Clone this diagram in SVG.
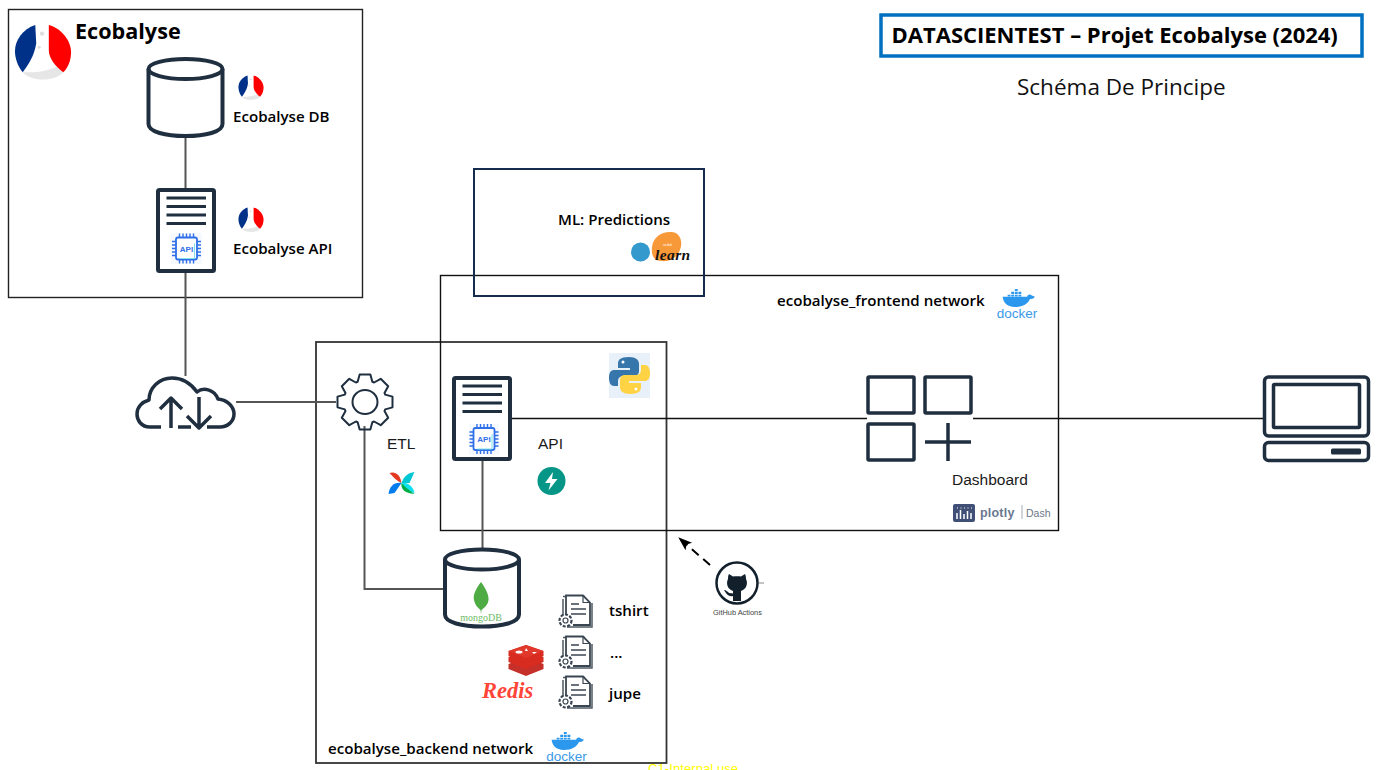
<svg xmlns="http://www.w3.org/2000/svg" width="1384" height="770" viewBox="0 0 1384 770">
<style>
.lab{font-family:"Open Sans","Liberation Sans",sans-serif;font-weight:600;font-size:15.100px;fill:#000}
.sm{font-family:"Liberation Sans",Arial,sans-serif;font-size:15.500px;fill:#1a1a1a}
.ic{fill:none;stroke:#1f2f40;stroke-linejoin:round;stroke-linecap:butt}
.box{fill:none}
.conn{fill:none;stroke:#555;stroke-width:2}
.thin{fill:none;stroke:#111;stroke-width:1.3}
.apit{font-family:"Liberation Sans",Arial,sans-serif;font-weight:700;font-size:8px;fill:#2f6fe8;text-anchor:middle}
.dock{font-family:"Liberation Sans",Arial,sans-serif;font-size:13.500px;fill:#3a9ae8;text-anchor:middle}
</style>
<defs>
<symbol id="flag" viewBox="0 0 60 60" overflow="visible">
<path d="M9 50C18 60 42 60 51 50L46 43C38 48 26 50 16 50Z" fill="#e6e6e6"/>
<path d="M22 1C9 5 1 17 1 28C1 36 4 44 9 50C15 42 21 33 23 20Z" fill="#003189"/>
<path d="M36 1C50 5 59 18 59 29C59 38 56 45 51 50C43 44 36 36 36 27Z" fill="#f00"/>
<circle cx="29" cy="10" r="2.2" fill="#ddd"/><circle cx="26" cy="24" r="1.6" fill="#ddd"/>
</symbol>
<g id="cyl"><path class="ic" stroke-width="4" d="M-37 12V67C-37 75 -20 79 0 79C20 79 37 75 37 67V12"/><ellipse class="ic" stroke-width="4" cx="0" cy="12" rx="37" ry="10"/></g>
<g id="server"><rect class="ic" stroke-width="4" x="2" y="2" width="56" height="81" rx="1.500"/><path class="ic" stroke-width="3" d="M10.500 10H50M10.500 18.500H50M10.500 27H50M10.500 35.500H50"/></g>
<g id="chip" fill="none" stroke="#2f6fe8"><rect x="-10.500" y="-11" width="21" height="22" rx="2" stroke-width="1.800" fill="#fff"/><path d="M-7 10H8V-5" stroke="#7fe0ea" stroke-width="1"/><path stroke-width="1.400" d="M-7 -11v-4M-3.500 -11v-4M0 -11v-4M3.500 -11v-4M7 -11v-4M-7 11v4M-3.500 11v4M0 11v4M3.500 11v4M7 11v4M-10.500 -7h-4M-10.500 -3.500h-4M-10.500 0h-4M-10.500 3.500h-4M-10.500 7h-4M10.500 -7h4M10.500 -3.500h4M10.500 0h4M10.500 3.500h4M10.500 7h4"/></g>
<g id="whale" fill="#2b97ed"><path d="M-20 -3H14C15 -6 17 -7 19 -6C21 -4 24 -4 25 -3C23 0 20 0 18 0C15 7 8 11 -3 11C-14 11 -19 5 -20 -3Z"/><path d="M-13 -6h4v2.500h-4zM-8 -6h4v2.500h-4zM-3 -6h4v2.500h-4zM2 -6h4v2.500h-4zM-8 -10h4v3h-4zM-3 -10h4v3h-4zM2 -10h4v3h-4zM-3 -14h4v3h-4z"/></g>
<g id="doc" fill="none" stroke="#3a4652"><path stroke-width="1.500" d="M5 5V29M5 2.500H27M9 33H34V9" stroke-opacity=".9"/><path stroke-width="1.800" d="M8 20V1.500H25L32 8.500V31H15" fill="#fff"/><path stroke-width="1.200" d="M25 1.500V8.500H32"/><path stroke-width="1.500" d="M13 10H21M13 15H28M13 20H28"/><circle cx="7.500" cy="26.500" r="6" stroke-width="2.200" stroke-dasharray="3 1.500" fill="#fff"/><circle cx="7.500" cy="26.500" r="2.500" stroke-width="1.200"/></g>
<marker id="ah" markerWidth="14" markerHeight="12" refX="13" refY="5" orient="auto" markerUnits="userSpaceOnUse"><path d="M0 0L14 5L0 10L3 5Z" fill="#000"/></marker>
</defs>

<rect width="1384" height="770" fill="#fff"/>

<g id="containers">
<rect class="box" x="8.500" y="9.500" width="354" height="288" stroke="#222" stroke-width="1.400"/>
<rect class="box" x="316" y="342" width="350.500" height="421" stroke="#333" stroke-width="1.800"/>
<rect class="box" x="440.500" y="275.500" width="618" height="255" stroke="#111" stroke-width="1.400"/>
<rect class="box" x="474" y="169" width="230" height="127" stroke="#152c4e" stroke-width="2"/>
</g>

<g id="connectors">
<path class="conn" d="M185.500 137V188M185.500 272V376M236 402H336M364.500 426V589H443M482.500 461V549"/>
<path class="thin" d="M512 418.500H867M973 418.500H1263"/>
<path d="M710 565L679 538" fill="none" stroke="#000" stroke-width="2" stroke-dasharray="9 6" marker-end="url(#ah)"/>
<path d="M759 583H764" stroke="#888" stroke-width="1"/>
</g>

<g id="title">
<rect x="881" y="15" width="481" height="41" fill="none" stroke="#0070c0" stroke-width="3.500"/>
<text x="891.500" y="43" font-family="'Open Sans','Liberation Sans',sans-serif" font-weight="700" font-size="22" fill="#000">DATASCIENTEST – Projet Ecobalyse (2024)</text>
<text x="1017" y="95" font-family="'Open Sans','Liberation Sans',sans-serif" font-size="22.500" fill="#111">Schéma De Principe</text>
</g>

<g id="ecobalyse-logo"><use href="#flag" x="14" y="24" width="58" height="58"/>
<text x="75" y="38.500" font-family="'Open Sans','Liberation Sans',sans-serif" font-weight="700" font-size="21.600" fill="#000">Ecobalyse</text></g>

<g id="ecobalyse-db"><use href="#cyl" transform="translate(185.500 57)"/><use href="#flag" x="238" y="75" width="26" height="26"/><text class="lab" x="233" y="122">Ecobalyse DB</text></g>

<g id="ecobalyse-api"><use href="#server" transform="translate(156 188)"/><rect x="171" y="233" width="31" height="31" fill="#f6f9fd"/><use href="#chip" transform="translate(186.500 248.500)"/><text class="apit" x="186.500" y="251.500">API</text><use href="#flag" x="238" y="207" width="26" height="26"/><text class="lab" x="233" y="254">Ecobalyse API</text></g>

<g id="cloud"><path class="ic" stroke-width="3.500" stroke-linecap="round" d="M161 427H150C141 427 137 420 137 414C137 407 142 402 149 400C149 388 159 378 172 378C184 378 192 385 197 392C203 387 214 389 218 399C228 400 234 407 234 414C234 421 228 427 220 427H207M178 427H191"/><path class="ic" stroke-width="3.500" d="M171 428V398M160 409L171 398L182 409M199 428V397M187 416L199 428L211 416"/></g>

<g id="etl"><path class="ic" stroke-width="2" transform="translate(365 402)" d="M20.200 -7.350L27.500 -5.350L27.500 5.350L20.200 7.350L19.500 9.100L23.200 15.700L15.700 23.200L9.100 19.500L7.350 20.200L5.350 27.500L-5.350 27.500L-7.350 20.200L-9.100 19.500L-15.700 23.200L-23.200 15.700L-19.500 9.100L-20.200 7.350L-27.500 5.350L-27.500 -5.350L-20.200 -7.350L-19.500 -9.100L-23.200 -15.700L-15.700 -23.200L-9.100 -19.500L-7.350 -20.200L-5.350 -27.500L5.350 -27.500L7.350 -20.200L9.100 -19.500L15.700 -23.200L23.200 -15.700L19.500 -9.100Z"/><ellipse class="ic" stroke-width="2" cx="365" cy="402" rx="12.500" ry="12"/>
<text class="sm" x="387" y="449">ETL</text>
<g transform="translate(401.500 483)"><path d="M0 0C-5 -2 -9 -7 -12 -10C-7 -12 -1 -9 0 0Z" fill="#e43921"/><path d="M0 0C3 -8 7 -10 13 -11L8 0Z" fill="#00c7d4"/><path d="M0 0C-8 -1 -12 4 -13 11L-7 10Z" fill="#017cee"/><path d="M0 0C3 5 6 8 13 10C12 4 6 -1 0 0Z" fill="#11e1ee"/><path d="M0 0C-1 6 3 10 13 11L5 5Z" fill="#00ad46"/></g></g>

<g id="api"><use href="#server" transform="translate(452 376)"/><rect x="469" y="424" width="30" height="31" fill="#f6f9fd"/><use href="#chip" transform="translate(484 439)"/><text class="apit" x="484" y="442">API</text>
<text class="sm" x="538" y="449">API</text>
<circle cx="551.500" cy="481" r="14" fill="#059688"/><path d="M553 472L545 483H550.500L548.500 490.500L557.500 479H552Z" fill="#fff"/></g>

<g id="python"><rect x="609" y="353" width="41" height="45" fill="#e8f0fa"/>
<path d="M629 357C620 357 618 360 618 364V368H630V370H614C610 370 609 374 609 378C609 383 611 386 614 386H618V381C618 378 620 376 624 376H634C637 376 639 374 639 371V364C639 360 636 357 629 357Z" fill="#3776ab"/>
<path d="M630 394C639 394 641 391 641 387V383H629V381H645C649 381 650 377 650 373C650 368 648 365 645 365H641V370C641 373 639 375 635 375H625C622 375 620 377 620 380V387C620 391 623 394 630 394Z" fill="#ffd343"/>
<circle cx="623" cy="362" r="1.500" fill="#fff"/><circle cx="636" cy="389" r="1.500" fill="#fff"/></g>

<g id="mongodb"><use href="#cyl" transform="translate(482 547.500)"/>
<path d="M481 582C475 590 473 595 474 600C475 605 478 608 480.500 610L481 614L481.500 610C484 608 488 605 488.500 600C489 595 486 589 481 582Z" fill="#4fab44"/>
<text x="481" y="620.500" font-family="'Liberation Serif',serif" font-size="10" fill="#6dbb66" text-anchor="middle">mongoDB</text></g>

<g id="file-tshirt"><use href="#doc" transform="translate(558 594)"/><text class="lab" x="609" y="616">tshirt</text></g>
<g id="file-etc"><use href="#doc" transform="translate(558 635)"/><text class="lab" x="610" y="658">...</text></g>
<g id="file-jupe"><use href="#doc" transform="translate(558 675)"/><text class="lab" x="609" y="699">jupe</text></g>

<g id="redis">
<path d="M508.500 664L526 657L543.500 664V669L526 676L508.500 669Z" fill="#c6302b"/>
<path d="M508.500 657L526 650L543.500 657V662L526 669L508.500 662Z" fill="#d82c20"/>
<path d="M508.500 651L526 645L543.500 651V656L526 663L508.500 656Z" fill="#d82c20"/>
<path d="M508.500 651L526 645L543.500 651L526 658Z" fill="#e0382b"/><ellipse cx="519" cy="652" rx="3.500" ry="1.600" fill="#fff"/><path d="M526 648l2 3l-3 0zM532 652h5l-3 2z" fill="#fff"/>
<text x="482" y="698" font-family="'Liberation Serif',serif" font-style="italic" font-weight="700" font-size="22.500" fill="#ff4438">Redis</text></g>

<g id="backend-label"><text class="lab" x="328" y="754">ecobalyse_backend network</text><use href="#whale" transform="translate(566 742) scale(.72)"/><text class="dock" x="566.500" y="761">docker</text></g>
<g id="frontend-label"><text class="lab" x="777" y="306">ecobalyse_frontend network</text><use href="#whale" transform="translate(1017 299) scale(.72)"/><text class="dock" x="1017" y="318">docker</text></g>

<g id="ml"><text class="lab" x="558" y="225">ML: Predictions</text>
<circle cx="640.500" cy="252" r="9.500" fill="#3499cd"/><path d="M652 247C653 237 662 231 672 232C681 233 683 243 680 250C677 258 670 262 661 261C654 261 651 255 652 247Z" fill="#f89939"/>
<text x="663" y="246" font-family="'Liberation Sans',sans-serif" font-size="4" fill="#fff">scikit</text>
<text x="655" y="260" font-family="'Liberation Serif',serif" font-style="italic" font-weight="700" font-size="15.500" fill="#111" letter-spacing=".4">learn</text></g>

<g id="dashboard"><g class="ic" stroke-width="3.500"><rect x="868" y="377" width="46" height="36" rx="1"/><rect x="925" y="377" width="46" height="36" rx="1"/><rect x="868" y="424" width="46" height="36" rx="1"/><path d="M925 442H971M948 423V461"/></g>
<text class="sm" x="952" y="485">Dashboard</text>
<rect x="953" y="504" width="22" height="18" rx="2" fill="#3f4f75"/><path d="M957 513v6M960.500 510v9M964 514v5M967.500 511v8M971 513v6" stroke="#fff" stroke-width="1.500"/><path d="M957 508h15" stroke="#fff" stroke-width="1" stroke-dasharray="1 2.500"/>
<text x="980" y="517" font-family="'Liberation Sans',sans-serif" font-weight="700" font-size="12.500" fill="#6a7890" letter-spacing=".2">plotly</text><path d="M1022 505V519" stroke="#8a95a8" stroke-width=".8"/><text x="1026" y="517" font-family="'Liberation Sans',sans-serif" font-size="10.500" fill="#6a7588">Dash</text></g>

<g id="laptop"><g class="ic"><rect x="1264.500" y="377" width="104" height="59" rx="4" stroke-width="3.500"/><rect x="1273.500" y="384.500" width="86" height="43" rx="1" stroke-width="3.500"/><rect x="1264.500" y="442.500" width="104" height="18" rx="4" stroke-width="3.500"/></g><rect x="1331" y="448.500" width="30" height="6" rx="1.500" fill="#1f2f40"/></g>

<g id="github-actions"><circle cx="737" cy="583" r="20.500" fill="#fff" stroke="#12202c" stroke-width="2.500"/>
<path d="M729 574L733 576.500C735 576 739 576 741 576.500L745 574C746 576 746 578 746 579C748 583 747 589 741 591V601H733V596C729 597 727 595 724 590C726 590 728 592 729 593L733 593.500V591C727 589 726 583 728 579C728 577 728 576 729 574Z" fill="#12202c"/>
<text x="737.500" y="615" font-family="'Liberation Sans',sans-serif" font-size="7.400" fill="#444" text-anchor="middle">GitHub Actions</text></g>

<text id="classification" x="648" y="773" font-family="'Liberation Sans',sans-serif" font-size="13.200" fill="#ffff00">C1-Internal use</text>
</svg>
